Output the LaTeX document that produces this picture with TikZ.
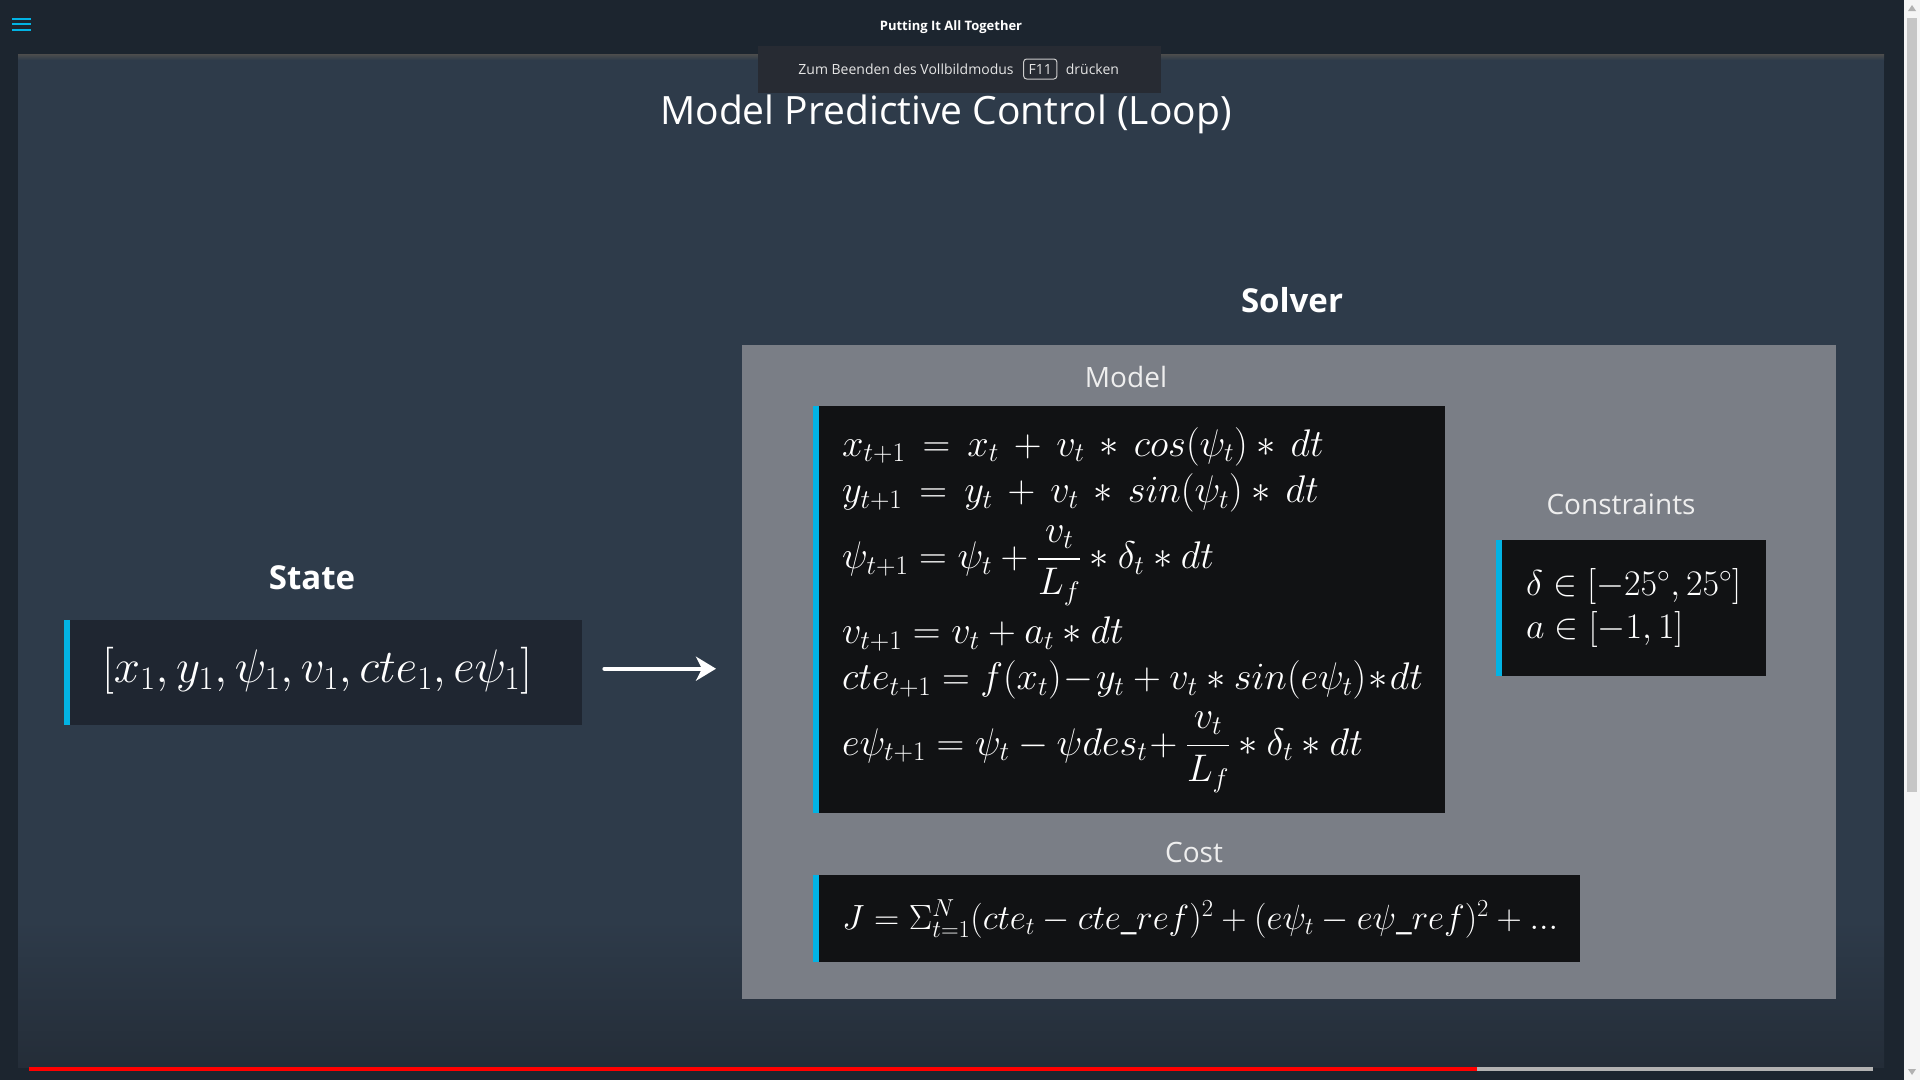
\RequirePackage{fix-cm}
\documentclass[tikz,border=0pt]{standalone}
\usepackage{amsmath,amssymb}
\usepackage[no-math]{fontspec}
\setmainfont{Open Sans}
\usetikzlibrary{arrows.meta,calc,positioning}

\definecolor{barbg}{HTML}{1C252F}
\definecolor{slidebg}{HTML}{2E3B4A}
\definecolor{slidelow}{HTML}{242D38}
\definecolor{tipbg}{HTML}{272B33}
\definecolor{solvergray}{HTML}{7A7E86}
\definecolor{eqdark}{HTML}{111214}
\definecolor{statedark}{HTML}{1F2631}
\definecolor{accent}{HTML}{02B3E4}
\definecolor{labelgray}{HTML}{EEEEEE}

\newcommand{\fsz}[1]{\fontsize{#1}{\fpeval{1.2*#1}}\selectfont}
\newcommand{\wide}{\medmuskip=7mu\thickmuskip=8mu}

\begin{document}
\begin{tikzpicture}[x=1pt,y=-1pt,>=Stealth,line cap=round,line join=round,
  eqbox/.style={inner sep=0pt,anchor=north west},
  heading/.style={text=white,font=\fsz{33}\bfseries},
  sublabel/.style={text=labelgray,font=\fsz{28}},
  mathtext/.style={text=white,align=left,inner sep=0pt},
  flow/.style={-{Stealth[length=20pt,width=24pt,inset=6pt]},white,line width=4pt}]
  \useasboundingbox (0,0) rectangle (1920,1080);

  % screen and slide
  \fill[barbg] (0,0) rectangle (1920,1080);
  \fill[slidebg] (18,54) rectangle (1884,920);
  \shade[top color=slidebg,bottom color=slidelow] (18,920) rectangle (1884,1067);
  \shade[top color=black!70,bottom color=slidebg] (18,54) rectangle (1884,60);
  \fill[barbg] (0,0) rectangle (1904,54);

  % scroll bar
  \fill[gray!8] (1904,0) rectangle (1920,1080);
  \fill[gray!45] (1907,18) rectangle (1917,792);
  \fill[gray!60] (1908,11) -- (1916,11) -- (1912,5) -- cycle;
  \fill[gray!60] (1908,1069) -- (1916,1069) -- (1912,1075) -- cycle;

  % menu icon and top title
  \foreach \y in {19,24,30}
    \draw[accent,line width=2.4pt,line cap=butt] (12,\y) -- (31,\y);
  \node[text=white,font=\fsz{13}\bfseries] (topic) at (951,27) {Putting It All Together};

  % full screen hint
  \fill[tipbg] (758,46) rectangle (1161,93);
  \node[text=white!90!black,font=\fsz{14}] (hint) at (906,69) {Zum Beenden des Vollbildmodus};
  \node[text=white!90!black,font=\fsz{14},draw=white!80!black,rounded corners=3pt,
        line width=1pt,inner sep=5pt,right=6pt of hint] (f11) {F11};
  \node[text=white!90!black,font=\fsz{14},right=5pt of f11] (hintend) {drücken};

  \node[text=white,font=\fsz{39}] (title) at (946,114) {Model Predictive Control (Loop)};

  % state
  \node[heading] (statelabel) at (312,578) {State};
  \node[eqbox,fill=statedark,minimum width=518,minimum height=105] (state) at (64,620) {};
  \node[mathtext,anchor=west,font=\fsz{47}] (statevec) at ($(state.west)+(38,-2)$)
    {$[x_1, y_1, \psi_1, v_1, cte_1, e\psi_1]$};

  % solver
  \node[heading] (solverlabel) at (1292,300) {Solver};
  \node[eqbox,fill=solvergray,minimum width=1094,minimum height=654] (solver) at (742,345) {};

  \node[sublabel] (modellabel) at (1126,377) {Model};
  \node[eqbox,fill=eqdark,minimum width=632,minimum height=407] (model) at (813,406) {};
  \node[mathtext,anchor=north west,font=\fsz{38.5}] (modeleq) at ($(model.north west)+(29,21)$)
    {$\wide x_{t+1} = x_t + v_t * cos(\psi_t)\!* dt$\\
     $\wide y_{t+1} = y_t + v_t * sin(\psi_t)\!* dt$\\[13pt]
     $\psi_{t+1} = \psi_t + \dfrac{v_t}{L_f} * \delta_t * dt$\\[10pt]
     $v_{t+1} = v_t + a_t * dt$\\
     $cte_{t+1} = f(x_t)\!-\! y_t + v_t * sin(e\psi_t)\!*\!dt$\\[12pt]
     $e\psi_{t+1} = \psi_t - \psi des_t\!+ \dfrac{v_t}{L_f} * \delta_t * dt$};

  \node[sublabel] (conslabel) at (1621,504) {Constraints};
  \node[eqbox,fill=eqdark,minimum width=270,minimum height=136] (constraints) at (1496,540) {};
  \node[mathtext,anchor=west,font=\fsz{36}] (conseq) at ($(constraints.west)+(30,0)$)
    {$\delta \in [-25^\circ, 25^\circ]$\\ $a \in [-1,1]$};

  \node[sublabel] (costlabel) at (1194,852) {Cost};
  \node[eqbox,fill=eqdark,minimum width=767,minimum height=87] (cost) at (813,875) {};
  \node[mathtext,anchor=west,font=\fsz{35}] (costeq) at ($(cost.west)+(29,0)$)
    {$J = \Sigma_{t=1}^N (cte_t - cte\_ref)^2 + (e\psi_t - e\psi\_ref)^2 + ...$};

  % accent bars
  \foreach \b in {state,model,constraints,cost}
    \fill[accent] (\b.north west) rectangle ($(\b.south west)+(6,0)$);

  \draw[flow,shorten <=22pt,shorten >=26pt] ($(state.east)+(0,-4)$) -- ($(solver.west |- state.east)+(0,-4)$);

  % progress bar
  \fill[red] (29,1067) rectangle (1477,1071);
  \fill[gray!60] (1477,1067) rectangle (1873,1071);
\end{tikzpicture}
\end{document}
